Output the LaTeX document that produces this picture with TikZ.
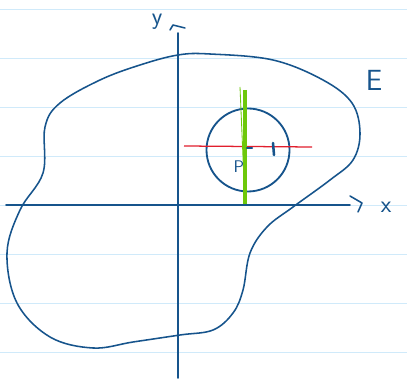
\documentclass[tikz,border=0pt]{standalone}
\usepackage{tikz}
\usetikzlibrary{calc}

\definecolor{inkblue}{RGB}{22,84,140}
\definecolor{ruleblue}{RGB}{208,234,250}
\definecolor{inkred}{RGB}{225,30,45}
\definecolor{inkgreen}{RGB}{110,200,10}

\begin{document}
\begin{tikzpicture}[
    x=0.025cm, y=-0.025cm,
    ink/.style={
        draw=inkblue,
        line width=1.1pt,
        line cap=round,
        line join=round
    },
    ruling/.style={
        draw=ruleblue,
        line width=0.6pt
    },
    handlabel/.style={
        text=inkblue,
        font=\sffamily\LARGE,
        inner sep=1pt
    }
]

\useasboundingbox[fill=white] (0,0) rectangle (407,379);

% ------------------------------------------------
% Ruled paper
% ------------------------------------------------

\foreach \yrule in {9,58,107,156,205,254,303,352}
    \draw[ruling] (0,\yrule) -- (407,\yrule);

% ------------------------------------------------
% Region E
% ------------------------------------------------

\draw[ink] plot[smooth cycle, tension=0.6] coordinates {
    (178,55) (210,54) (273,60) (323,80) (352,103) (360,133)
    (353,160) (330,180) (293,207) (267,227) (250,253) (243,290)
    (233,313) (213,330) (180,335) (133,342) (93,348) (50,337)
    (17,303) (7,253) (20,210) (43,173) (45,127) (60,103)
    (100,80) (140,65)
};

\node[handlabel, font=\sffamily\huge] (labelE) at (374,80) {E};

% ------------------------------------------------
% Axes
% ------------------------------------------------

\coordinate (xstart) at (6,205);
\coordinate (xend) at (350,205);
\coordinate (ystart) at (178,378);
\coordinate (yend) at (178,33);

\draw[ink] (xstart) -- (xend);
\draw[ink] (ystart) -- (yend);

% hand drawn arrow heads
\draw[ink] ($(xend)+(0,-9)$) -- ($(xend)+(12,-2)$) -- ($(xend)+(8,7)$);
\draw[ink] ($(yend)+(-8,-3)$) -- ($(yend)+(-5,-8)$) -- ($(yend)+(7,-5)$);

\node[handlabel] (labelx) at (386,207) {x};
\node[handlabel] (labely) at (157,22) {y};

% ------------------------------------------------
% Disc around P
% ------------------------------------------------

\node[draw=inkblue, line width=1.3pt, circle,
      minimum size=83*0.025cm, inner sep=0pt] (disc) at (248,150) {};

\coordinate (redleft) at (184,146);
\coordinate (redright) at (312,147);
\draw[draw=inkred, line width=0.9pt] (redleft) -- (redright);

\coordinate (greentop) at (240,87);
\coordinate (greentopb) at (245,90);
\coordinate (greenfoot) at (245,204);
\draw[draw=inkgreen, line width=0.6pt] (greentop) -- (greenfoot);
\draw[draw=inkgreen, line width=2.4pt] (greentopb) -- (greenfoot);

% centre mark and unit tick
\draw[ink, line width=1.6pt] (247,148) -- (252,148);
\draw[ink, line width=1.8pt] (273,143) -- (274,155);

\node[handlabel, font=\sffamily\large] (labelP) at (239,167) {P};

\end{tikzpicture}
\end{document}
